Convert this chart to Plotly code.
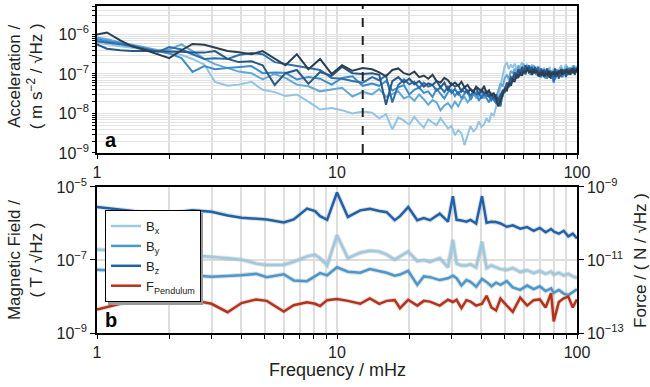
import plotly.graph_objects as go

# ---------------- Panel a : acceleration spectra (log10 values) ----------------
acc_freq = [1.0, 1.1, 1.25, 1.4, 1.6, 1.8, 2.0, 2.25, 2.5, 2.8, 3.1, 3.5, 3.9, 4.4, 4.9,
            5.5, 6.1, 6.8, 7.6, 8.5, 9.5, 10.5, 11.6, 12.8,
            14, 15, 16, 17, 18, 19, 20, 21, 22, 23,
            24, 25, 26, 27, 28, 29, 30, 31, 32, 33,
            34, 35, 36, 37, 38, 39, 40, 41, 42, 43,
            44, 45, 46, 47, 48, 49, 50, 51, 52, 53,
            54, 55, 56, 57, 58, 59, 60, 61, 62, 63,
            64, 65, 66, 67, 68, 69, 70, 71, 72, 73,
            74, 75, 76, 77, 78, 79, 80, 81, 82, 83,
            84, 85, 86, 87, 88, 89, 90, 91, 92, 93,
            94, 95, 96, 97, 98, 99, 100]

acc1_log = [-6.21, -6.24, -6.30, -6.34, -6.38, -6.42, -6.44, -6.52, -6.62, -6.76, -7.20, -7.30, -7.27, -7.20, -7.40,
            -7.46, -7.56, -7.52, -7.70, -7.90, -7.86, -7.92, -8.00, -7.95,
            -7.98, -8.12, -8.02, -8.40, -8.10, -8.18, -8.28, -8.08, -8.24, -8.36,
            -8.15, -8.22, -8.30, -8.12, -8.25, -8.38, -8.32, -8.55, -8.42, -8.50,
            -8.80, -8.58, -8.32, -8.45, -8.38, -8.20, -8.34, -8.28, -8.12, -8.22,
            -8.00, -8.05, -7.85, -7.62, -7.30, -7.02, -6.80, -6.70, -6.88, -6.76,
            -6.84, -6.74, -6.86, -6.92, -6.78, -6.70, -6.82, -6.90, -6.74, -6.96,
            -6.82, -6.76, -6.94, -6.88, -7.02, -6.80, -6.86, -7.06, -6.92, -6.84,
            -7.08, -6.94, -6.90, -6.82, -7.04, -7.00, -6.84, -6.96, -6.88, -7.06,
            -6.90, -6.84, -6.78, -6.98, -6.92, -6.82, -6.76, -6.94, -6.88, -6.98,
            -6.82, -6.92, -6.78, -6.96, -6.86, -6.80, -6.90]

acc2_log = [-6.08, -6.12, -6.20, -6.26, -6.34, -6.40, -6.38, -6.25, -6.42, -6.62, -6.75, -6.85, -6.94, -6.98, -7.14,
            -7.00, -7.10, -7.27, -7.31, -7.44, -7.40, -7.35, -7.57, -7.45,
            -7.52, -7.38, -7.58, -7.50, -7.44, -7.62, -7.56, -7.68, -7.52, -7.64,
            -7.78, -7.66, -7.72, -7.92, -7.80, -7.74, -7.86, -7.70, -7.82, -7.66,
            -7.58, -7.72, -7.62, -7.48, -7.60, -7.54, -7.44, -7.62, -7.52, -7.58,
            -7.66, -7.50, -7.58, -7.42, -7.24, -7.32, -7.10, -7.02, -7.14, -6.92,
            -6.98, -6.86, -7.02, -6.78, -6.90, -6.96, -6.74, -6.88, -6.80, -6.94,
            -7.02, -6.84, -6.78, -6.92, -7.04, -6.88, -6.96, -7.08, -6.90, -7.00,
            -7.12, -6.94, -6.86, -7.04, -7.10, -6.92, -7.18, -7.00, -6.94, -6.88,
            -7.02, -6.92, -6.84, -6.96, -7.06, -6.90, -6.86, -6.80, -6.98, -6.90,
            -6.94, -6.84, -6.92, -6.78, -6.88, -6.84, -6.82]

acc3_log = [-6.12, -6.16, -6.22, -6.28, -6.36, -6.42, -6.48, -6.60, -6.95, -6.80, -6.88, -6.85, -6.82, -6.80, -6.98,
            -6.96, -6.97, -7.14, -7.08, -7.12, -7.27, -7.10, -7.06, -7.30,
            -7.24, -7.30, -7.18, -7.42, -7.34, -7.28, -7.52, -7.40, -7.34, -7.48,
            -7.44, -7.58, -7.38, -7.50, -7.62, -7.46, -7.40, -7.56, -7.44, -7.62,
            -7.50, -7.42, -7.66, -7.52, -7.46, -7.68, -7.56, -7.50, -7.62, -7.72,
            -7.58, -7.66, -7.74, -7.62, -7.52, -7.58, -7.34, -7.38, -7.20, -7.22,
            -7.08, -7.12, -6.98, -7.06, -6.92, -6.96, -6.88, -7.02, -6.84, -6.92,
            -6.88, -7.02, -6.94, -6.98, -6.86, -7.04, -6.98, -7.08, -6.92, -7.02,
            -6.96, -7.12, -7.00, -7.04, -6.92, -7.08, -6.98, -7.14, -7.02, -7.06,
            -6.92, -7.04, -6.98, -7.08, -6.94, -6.98, -6.88, -7.04, -6.94, -6.98,
            -6.88, -6.96, -6.84, -6.98, -6.88, -6.94, -6.84]

acc4_log = [-6.17, -6.20, -6.25, -6.30, -6.38, -6.44, -6.32, -6.38, -6.50, -6.62, -6.60, -6.62, -6.52, -6.47, -6.50,
            -6.70, -6.75, -6.80, -6.85, -6.90, -7.10, -7.12, -7.18, -7.22,
            -7.08, -7.16, -7.04, -7.72, -7.28, -7.14, -7.26, -7.20, -7.36, -7.22,
            -7.32, -7.28, -7.42, -7.34, -7.46, -7.32, -7.48, -7.38, -7.52, -7.40,
            -7.46, -7.42, -7.56, -7.44, -7.52, -7.48, -7.62, -7.48, -7.56, -7.54,
            -7.66, -7.58, -7.72, -7.64, -7.82, -7.50, -7.46, -7.28, -7.32, -7.14,
            -7.18, -7.04, -7.12, -6.98, -7.02, -6.88, -6.98, -6.84, -6.92, -6.78,
            -6.88, -6.82, -6.98, -6.86, -6.94, -6.82, -7.02, -6.92, -6.98, -6.88,
            -7.02, -6.92, -7.08, -6.98, -7.12, -7.02, -7.22, -6.98, -7.08, -6.92,
            -7.02, -6.96, -7.08, -6.92, -6.98, -6.88, -7.02, -6.92, -6.96, -6.84,
            -6.98, -6.88, -6.94, -6.82, -6.94, -6.86, -6.90]

acc5_log = [-6.25, -6.36, -6.40, -6.42, -6.42, -6.42, -6.43, -6.44, -6.46, -6.46, -6.42, -6.62, -6.70, -6.68, -6.78,
            -7.28, -6.98, -6.90, -7.25, -6.95, -7.05, -6.82, -6.98, -7.00,
            -6.98, -7.02, -7.78, -7.18, -7.08, -7.22, -7.12, -7.26, -7.18, -7.32,
            -7.24, -7.28, -7.18, -7.34, -7.22, -7.42, -7.24, -7.32, -7.28, -7.44,
            -7.32, -7.48, -7.38, -7.44, -7.34, -7.52, -7.38, -7.50, -7.42, -7.58,
            -7.48, -7.62, -7.52, -7.68, -7.56, -7.42, -7.44, -7.22, -7.28, -7.08,
            -7.12, -6.96, -7.08, -6.88, -6.98, -6.82, -6.94, -6.78, -6.88, -6.82,
            -6.94, -6.86, -6.98, -6.82, -6.96, -6.92, -7.08, -6.86, -7.04, -6.92,
            -6.98, -6.86, -7.04, -6.92, -7.08, -6.96, -6.98, -6.86, -7.02, -6.96,
            -7.12, -6.92, -7.04, -6.88, -6.98, -6.92, -7.08, -6.86, -6.98, -6.92,
            -7.02, -6.86, -6.98, -6.92, -7.02, -6.86, -6.94]

acc6_log = [-6.00, -5.95, -6.15, -6.30, -6.40, -6.50, -6.60, -6.40, -6.24, -6.26, -6.33, -6.42, -6.45, -6.50, -6.42,
            -6.62, -6.78, -6.50, -6.88, -6.62, -7.00, -6.78, -6.92, -6.85,
            -6.88, -6.96, -7.06, -6.90, -6.86, -6.98, -7.02, -6.94, -7.08, -7.04,
            -7.12, -7.02, -7.18, -7.22, -7.10, -7.16, -7.28, -7.22, -7.30, -7.20,
            -7.34, -7.28, -7.40, -7.46, -7.32, -7.38, -7.44, -7.30, -7.50, -7.42,
            -7.56, -7.48, -7.62, -7.82, -7.64, -7.52, -7.38, -7.42, -7.24, -7.30,
            -7.14, -7.18, -7.04, -7.08, -6.98, -7.04, -6.92, -6.98, -6.86, -6.96,
            -6.92, -7.02, -6.88, -6.96, -6.92, -7.06, -6.98, -7.02, -6.92, -7.08,
            -6.98, -7.02, -6.92, -7.10, -6.96, -7.02, -6.94, -7.06, -6.98, -7.02,
            -6.92, -6.98, -6.88, -7.02, -6.94, -6.98, -6.88, -6.98, -6.92, -7.02,
            -6.92, -6.94, -6.86, -6.98, -6.92, -6.94, -6.86]

acc_colors = ["#93c4e2", "#64a8d7", "#3f8dc8", "#2a70ae", "#2a5783", "#2c3e50"]
dashed_freq = 12.8

# ---------------- Panel b : magnetic field and force (log10 values) ----------------
mag_freq = [1.0, 1.5, 2.0, 2.5, 3.0, 3.5, 4.0, 4.6, 5.1, 6.0, 6.6, 7.5, 8.1, 8.5, 9.1,
            10.0, 11.1, 12.5, 13.7, 15.0, 16.1, 17.4, 18.3, 19.8, 21.6, 23.0, 24.4, 26.8,
            29.0, 30.4, 31.5, 33.0, 34.6, 36.0, 38.0, 40.2, 42.0, 44.0, 46.0, 48.0, 51.0,
            54.0, 58.0, 62.0, 66.0, 70.0, 74.0, 78.0, 80.0, 84.0, 88.0, 92.0, 96.0, 100.0]

bx_log = [-6.71, -6.78, -6.84, -6.88, -6.91, -6.95, -6.99, -7.10, -7.14, -7.13, -7.05, -6.90, -6.86, -6.95, -7.15,
          -6.32, -6.95, -6.80, -6.75, -6.77, -6.85, -6.99, -6.90, -6.77, -7.03, -7.00, -7.05, -6.95,
          -7.20, -6.45, -7.10, -7.15, -7.15, -7.12, -7.20, -6.50, -7.22, -7.15, -7.20, -7.25, -7.27,
          -7.22, -7.33, -7.28, -7.36, -7.30, -7.38, -7.32, -7.40, -7.35, -7.42, -7.38, -7.45, -7.49]

by_log = [-7.27, -7.33, -7.38, -7.42, -7.46, -7.44, -7.42, -7.38, -7.47, -7.39, -7.56, -7.58, -7.45, -7.36, -7.42,
          -7.20, -7.32, -7.35, -7.25, -7.30, -7.35, -7.43, -7.40, -7.30, -7.68, -7.45, -7.47, -7.55,
          -7.50, -7.43, -7.50, -7.70, -7.55, -7.60, -7.73, -7.52, -7.60, -7.72, -7.62, -7.68, -7.58,
          -7.75, -7.82, -7.70, -7.80, -7.72, -7.85, -7.78, -7.90, -7.82, -7.92, -7.96, -7.88, -7.80]

bz_log = [-5.55, -5.68, -5.71, -5.64, -5.68, -5.78, -5.84, -5.87, -5.89, -5.97, -5.89, -5.59, -5.66, -5.80, -5.90,
          -5.15, -5.82, -5.64, -5.60, -5.66, -5.69, -5.91, -5.80, -5.55, -5.91, -5.85, -5.91, -5.73,
          -5.95, -5.25, -5.90, -5.92, -5.95, -5.90, -6.00, -5.25, -5.98, -5.95, -5.96, -6.00, -6.09,
          -6.05, -6.14, -6.10, -6.20, -6.12, -6.24, -6.15, -6.22, -6.28, -6.20, -6.35, -6.28, -6.41]

force_log = [-12.36, -12.07, -12.07, -12.10, -12.20, -12.43, -12.18, -12.08, -12.12, -12.41, -12.24, -12.16, -12.20, -12.26, -12.10,
             -12.07, -12.12, -12.20, -12.05, -12.20, -12.12, -12.10, -12.32, -12.09, -12.25, -12.12, -12.14, -12.25,
             -12.09, -12.15, -12.09, -12.32, -12.10, -12.14, -12.25, -12.20, -11.98, -12.30, -12.38, -12.06, -12.25,
             -12.42, -12.03, -12.25, -12.10, -12.08, -12.30, -11.91, -12.68, -12.15, -12.05, -12.00, -12.30, -12.08]

mag_names = ["B<sub>x</sub>", "B<sub>y</sub>", "B<sub>z</sub>", "F<sub>Pendulum</sub>"]
mag_colors = ["#9ecae1", "#4a98cc", "#1f62a9", "#b8321a"]

FONT = "Liberation Sans, Arial, Helvetica, sans-serif"


def pw(vals):
    return [10 ** v for v in vals]


fig = go.Figure()

for vals, col in zip([acc1_log, acc2_log, acc3_log, acc4_log, acc5_log, acc6_log], acc_colors):
    fig.add_trace(go.Scatter(x=acc_freq, y=pw(vals), mode="lines", xaxis="x", yaxis="y",
                             line=dict(color=col, width=2), showlegend=False, hoverinfo="skip"))

series_b = [bx_log, by_log, bz_log, force_log]
axes_b = ["y2", "y2", "y2", "y3"]
# soft shadow under panel-b lines
for vals, ax in zip(series_b, axes_b):
    fig.add_trace(go.Scatter(x=mag_freq, y=pw(vals), mode="lines", xaxis="x2", yaxis=ax,
                             line=dict(color="rgba(150,150,150,0.3)", width=4.5),
                             showlegend=False, hoverinfo="skip"))
for vals, ax, name, col in zip(series_b, axes_b, mag_names, mag_colors):
    fig.add_trace(go.Scatter(x=mag_freq, y=pw(vals), mode="lines", xaxis="x2", yaxis=ax,
                             name=name, line=dict(color=col, width=2.5)))

# ticks
x_ticks = [m * 10 ** k for k in (0, 1) for m in range(1, 10)] + [100]
x_text = [("1" if v == 1 else "10" if v == 10 else "100" if v == 100 else "") for v in x_ticks]


def sup(k):
    return "10<sup>\u2212%d</sup>" % (-k)


ya_ticks = [m * 10.0 ** k for k in range(-9, -5) for m in range(1, 10)]
ya_text = [sup(k) if m == 1 else "" for k in range(-9, -5) for m in range(1, 10)]

common_x = dict(type="log", range=[0, 2], tickvals=x_ticks, ticktext=x_text,
                showgrid=True, gridcolor="#dedede", gridwidth=1.5, ticks="outside", ticklen=4,
                tickcolor="black", linecolor="black", linewidth=1.5, mirror=True,
                tickfont=dict(size=16, color="#222"), zeroline=False)

fig.update_layout(
    width=650, height=387,
    margin=dict(l=97, r=73, t=6, b=54, autoexpand=False),
    paper_bgcolor="white", plot_bgcolor="white",
    font=dict(family=FONT, color="#222"),
    xaxis=dict(domain=[0, 1], anchor="y", **common_x),
    yaxis=dict(domain=[0.5505, 1], anchor="x", type="log", range=[-9, -5.28],
               tickvals=ya_ticks, ticktext=ya_text, showgrid=True, gridcolor="#e2e2e2", gridwidth=1,
               ticks="outside", ticklen=3, tickcolor="black", linecolor="black", linewidth=1.5,
               mirror=True, tickfont=dict(size=16, color="#222"), zeroline=False),
    xaxis2=dict(domain=[0, 1], anchor="y2", **common_x),
    yaxis2=dict(domain=[0, 0.4465], anchor="x2", type="log", range=[-9, -5],
                tickvals=[1e-9, 1e-7, 1e-5], ticktext=[sup(-9), sup(-7), sup(-5)],
                showgrid=True, gridcolor="#dedede", gridwidth=1.5,
                ticks="outside", ticklen=5, tickcolor="black", linecolor="black", linewidth=1.5,
                mirror=True, tickfont=dict(size=16, color="#222"), zeroline=False),
    yaxis3=dict(overlaying="y2", anchor="x2", side="right", type="log", range=[-13, -9],
                tickvals=[1e-13, 1e-11, 1e-9], ticktext=[sup(-13), sup(-11), sup(-9)],
                showgrid=False, ticks="outside", ticklen=5, tickcolor="black",
                linecolor="black", linewidth=1.5, tickfont=dict(size=16, color="#222"), zeroline=False),
    legend=dict(x=0.0167, y=0.376, xanchor="left", yanchor="top", bgcolor="white",
                bordercolor="black", borderwidth=1, font=dict(size=13, color="#222"),
                itemwidth=30, tracegroupgap=0),
    showlegend=True,
)

# legend drop shadow
fig.add_shape(type="rect", xref="paper", yref="paper", x0=0.0229, x1=0.2208, y0=0.0856, y1=0.367,
              fillcolor="#9a9a9a", line=dict(width=0), layer="above")

fig.add_shape(type="line", xref="x", yref="y domain", x0=dashed_freq, x1=dashed_freq, y0=0, y1=1,
              line=dict(color="#222", width=2, dash="dash"))

fig.add_annotation(text="<b>a</b>", xref="x domain", yref="y domain", x=0.012, y=0.0,
                   xanchor="left", yanchor="bottom", showarrow=False, font=dict(size=20, color="black"))
fig.add_annotation(text="<b>b</b>", xref="x2 domain", yref="y2 domain", x=0.012, y=0.0,
                   xanchor="left", yanchor="bottom", showarrow=False, font=dict(size=20, color="black"))

fig.add_annotation(text="Acceleration /<br>( m s<sup>\u22122</sup> / \u221aHz )", xref="paper", yref="paper",
                   x=-0.15, y=0.785, xanchor="center", yanchor="middle", textangle=-90, showarrow=False,
                   font=dict(size=17, color="#222"))
fig.add_annotation(text="Magnetic Field /<br>( T / \u221aHz )", xref="paper", yref="paper",
                   x=-0.15, y=0.223, xanchor="center", yanchor="middle", textangle=-90, showarrow=False,
                   font=dict(size=17, color="#222"))
fig.add_annotation(text="Force / ( N / \u221aHz )", xref="paper", yref="paper",
                   x=1.131, y=0.223, xanchor="center", yanchor="middle", textangle=-90, showarrow=False,
                   font=dict(size=17, color="#222"))
fig.add_annotation(text="Frequency / mHz", xref="paper", yref="paper",
                   x=0.5, y=-0.113, xanchor="center", yanchor="middle", showarrow=False,
                   font=dict(size=18, color="#222"))

fig.write_html("out.html", config={"displayModeBar": False},
               post_script="document.body.style.margin='0px';")
